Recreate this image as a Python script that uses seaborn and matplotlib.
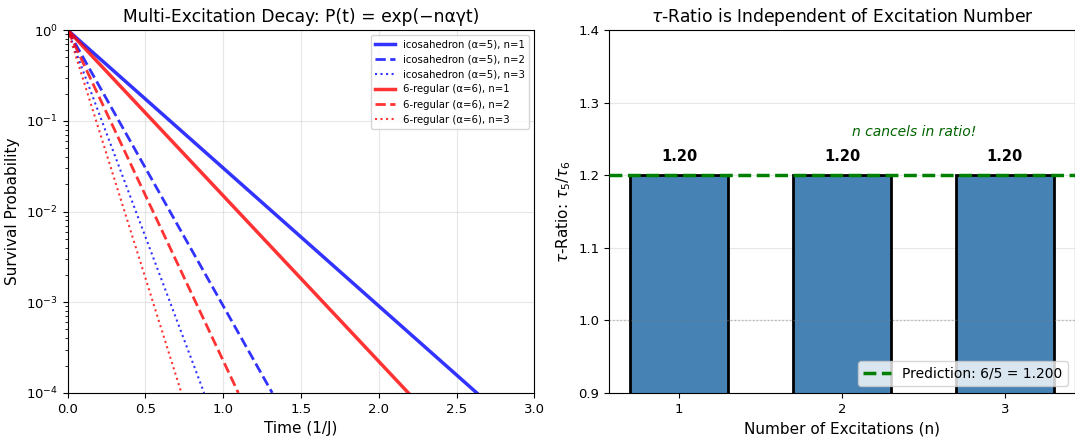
import numpy as np
import pandas as pd
import matplotlib
matplotlib.use("Agg")
import matplotlib.pyplot as plt
import seaborn as sns

# Survival curves: each decays as a straight line on the log axis,
# from P=1 at t=0 down to P=1e-4 at the crossing time below.
curve_labels = [
    "icosahedron (α=5), n=1",
    "icosahedron (α=5), n=2",
    "icosahedron (α=5), n=3",
    "6-regular (α=6), n=1",
    "6-regular (α=6), n=2",
    "6-regular (α=6), n=3",
]
start_time = [0.0, 0.0, 0.0, 0.0, 0.0, 0.0]
start_prob = [1.0, 1.0, 1.0, 1.0, 1.0, 1.0]
end_time = [2.63, 1.315, 0.877, 2.19, 1.097, 0.731]
end_prob = [1e-4, 1e-4, 1e-4, 1e-4, 1e-4, 1e-4]

# Tau ratio per excitation number
excitations = [1, 2, 3]
tau_ratio = [1.20, 1.20, 1.20]
prediction = 1.2

curve_colors = ["blue", "blue", "blue", "red", "red", "red"]
curve_styles = ["-", "--", ":", "-", "--", ":"]
curve_widths = [2.5, 2.0, 1.5, 2.5, 2.0, 1.5]

plt.rcParams["font.family"] = ["DejaVu Sans"]

fig = plt.figure(figsize=(10.75, 4.37), dpi=100)
ax1 = fig.add_axes([0.063, 0.101, 0.434, 0.830])
ax2 = fig.add_axes([0.5665, 0.101, 0.4335, 0.830])

# ---- Left panel: decay curves ----
for lbl, t0, p0, t1, p1, c, ls, lw in zip(curve_labels, start_time, start_prob,
                                          end_time, end_prob, curve_colors,
                                          curve_styles, curve_widths):
    df = pd.DataFrame({"t": [t0, t1], "P": [p0, p1]})
    sns.lineplot(data=df, x="t", y="P", ax=ax1, color=c, linestyle=ls,
                 linewidth=lw, alpha=0.8, label=lbl)

ax1.set_yscale("log")
ax1.set_xlim(0, 3.0)
ax1.set_ylim(1e-4, 1)
ax1.set_xlabel("Time (1/J)", fontsize=11)
ax1.set_ylabel("Survival Probability", fontsize=11)
ax1.set_title("Multi-Excitation Decay: P(t) = exp(−nαγt)", fontsize=12.3)
ax1.grid(True, alpha=0.3)
ax1.legend(loc="upper right", fontsize=7.3)
ax1.tick_params(labelsize=9.5)

# ---- Right panel: tau ratio bars ----
bar_df = pd.DataFrame({"n": excitations, "ratio": tau_ratio})
sns.barplot(data=bar_df, x="n", y="ratio", ax=ax2, native_scale=True,
            color="steelblue", saturation=1, width=0.6,
            edgecolor="black", linewidth=2, zorder=2)

ax2.axhline(prediction, color="green", linestyle="--", linewidth=2.5,
            label=f"Prediction: 6/5 = {prediction:.3f}", zorder=3)
ax2.axhline(1.0, color="gray", linestyle=":", linewidth=1, alpha=0.5, zorder=3)

for n, r in zip(excitations, tau_ratio):
    ax2.text(n, r + 0.015, f"{r:.2f}", ha="center", va="bottom",
             fontsize=10.5, fontweight="bold")

ax2.text(2.44, 1.25, "n cancels in ratio!", ha="center", va="bottom",
         fontsize=10, style="italic", color="darkgreen")

ax2.set_xlim(0.57, 3.43)
ax2.set_xticks(excitations)
ax2.set_xticklabels([str(n) for n in excitations])
ax2.set_ylim(0.9, 1.4)
ax2.set_yticks([0.9, 1.0, 1.1, 1.2, 1.3, 1.4])
ax2.set_xlabel("Number of Excitations (n)", fontsize=11)
ax2.set_ylabel(r"$\tau$-Ratio: $\tau_5/\tau_6$", fontsize=11)
ax2.set_title(r"$\tau$-Ratio is Independent of Excitation Number", fontsize=12.3)
ax2.grid(True, axis="y", alpha=0.3, zorder=0)
ax2.set_axisbelow(True)
ax2.legend(loc="lower right", fontsize=10)
ax2.tick_params(labelsize=9.5)

fig.savefig("out.png", dpi=100)
